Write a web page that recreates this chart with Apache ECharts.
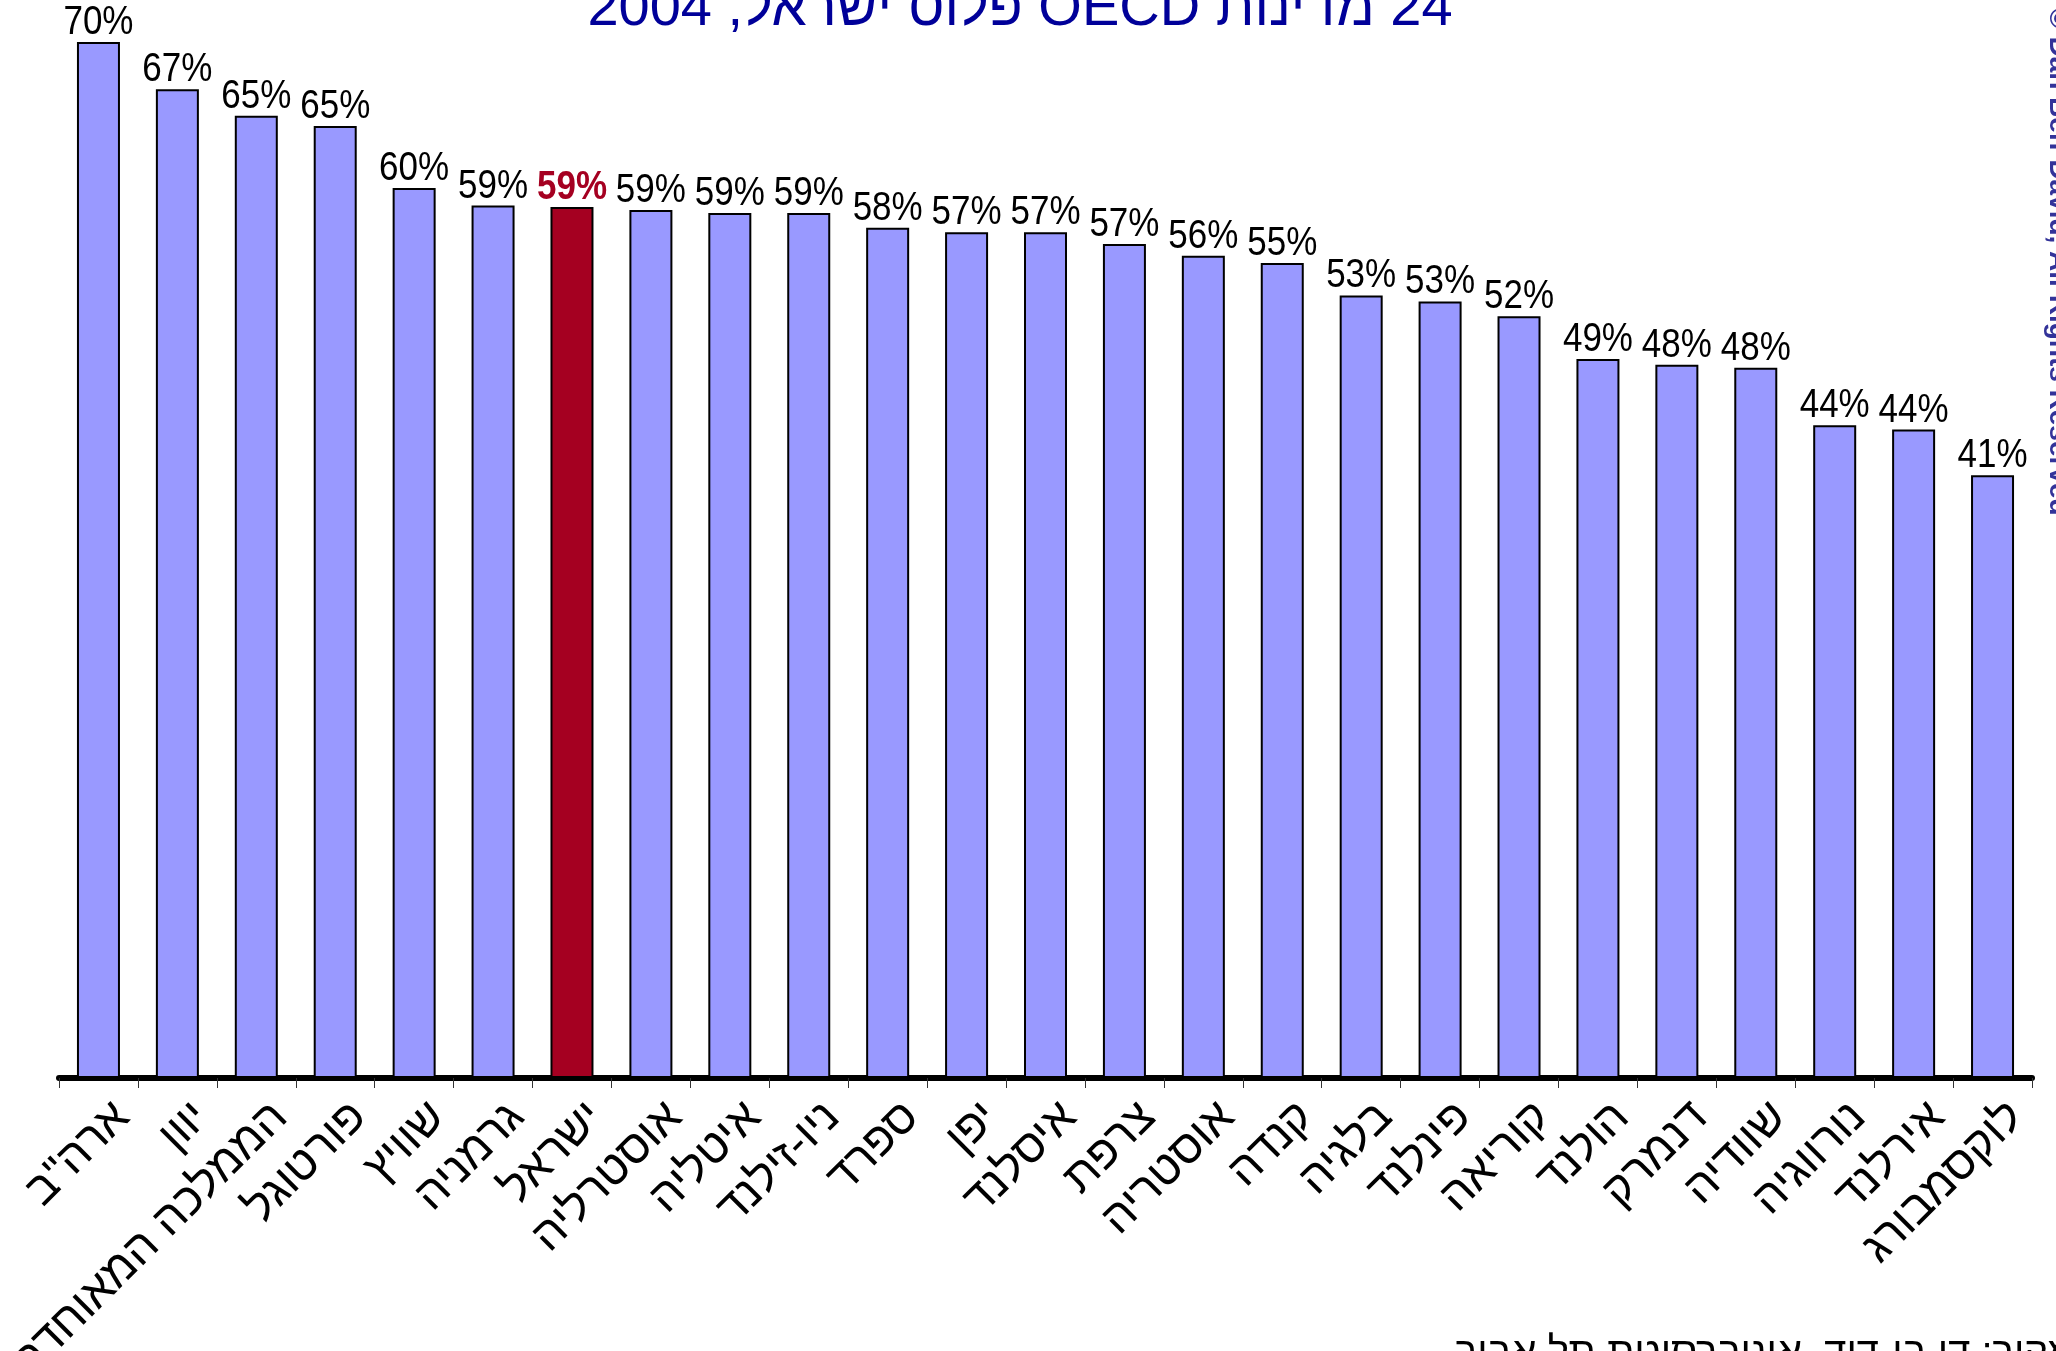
<!DOCTYPE html>
<html><head><meta charset="utf-8">
<script src="https://cdn.jsdelivr.net/npm/echarts@6/dist/echarts.min.js"></script>
<style>html,body{margin:0;padding:0;background:#fff}#c{width:2056px;height:1351px}</style>
</head><body><div id="c"></div>
<script>
const categories = ['ארה"ב','יוון','הממלכה המאוחדת','פורטוגל','שוויץ','גרמניה','ישראל','אוסטרליה','איטליה','ניו-זילנד','ספרד','יפן','איסלנד','צרפת','אוסטריה','קנדה','בלגיה','פינלנד','קוריאה','הולנד','דנמרק','שוודיה','נורווגיה','אירלנד','לוקסמבורג'];
const values = [70.3, 67.1, 65.3, 64.6, 60.4, 59.2, 59.1, 58.9, 58.7, 58.7, 57.7, 57.4, 57.4, 56.6, 55.8, 55.3, 53.1, 52.7, 51.7, 48.8, 48.4, 48.2, 44.3, 44.0, 40.9];
const highlight = 'ישראל';
const titleText = '24 מדינות OECD פלוס ישראל, 2004';
const sourceText = 'מקור: דן בן-דוד, אוניברסיטת תל אביב';
const copyrightText = '© Dan Ben-David, All Rights Reserved';

const FONT = '"Liberation Sans", Arial, sans-serif';
const chart = echarts.init(document.getElementById('c'), null, {renderer: 'canvas'});
const data = values.map((v, i) => {
  const isH = categories[i] === highlight;
  return {value: v, itemStyle: isH ? {color: '#A50021'} : undefined};
});
chart.setOption({
  animation: false,
  backgroundColor: '#ffffff',
  grid: {left: 59, right: 24, top: 17, bottom: 273, containLabel: false, outerBoundsMode: 'none'},
  xAxis: {
    type: 'category',
    data: categories,
    axisLine: {show: true, onZero: true, lineStyle: {color: '#000', width: 6}},
    axisTick: {show: true, length: 10, lineStyle: {color: '#333', width: 1}},
    axisLabel: {interval: 0, rotate: 45, margin: 8, verticalAlign: 'top', lineHeight: 68,
                fontSize: 46, color: '#000', fontFamily: FONT}
  },
  yAxis: {type: 'value', min: 0, max: 72, show: false},
  series: [{
    type: 'bar',
    data: data,
    barWidth: 43,
    itemStyle: {color: '#9999FF', borderColor: '#000', borderWidth: 2},
    label: {show: false}
  }, {
    type: 'custom',
    data: values.map((v, i) => [i, v]),
    z: 10,
    silent: true,
    renderItem: (params, api) => {
      const i = api.value(0), v = api.value(1);
      const pt = api.coord([i, v]);
      const isH = categories[i] === highlight;
      return {
        type: 'text', x: pt[0], y: pt[1] + 1, scaleY: 1.15,
        style: {
          text: Math.round(v) + '%', x: 0, y: 0,
          align: 'center', textAlign: 'center', verticalAlign: 'bottom', textVerticalAlign: 'bottom',
          fontSize: 35, fontFamily: FONT, fontWeight: isH ? 'bold' : 'normal',
          fill: isH ? '#A50021' : '#000'
        }
      };
    }
  }],
  graphic: [
    {type: 'text', x: 1020, y: 38, silent: true,
     style: {text: '\u202B' + titleText + '\u202C', fontSize: 56, fontFamily: FONT, fill: '#000099',
             textAlign: 'center', align: 'center', textVerticalAlign: 'bottom', verticalAlign: 'bottom'}},
    {type: 'text', x: 2044, y: 8, rotation: -Math.PI / 2, silent: true,
     style: {text: copyrightText, fontSize: 28, fontWeight: 'bold', fontFamily: FONT, fill: '#333399',
             textAlign: 'left', align: 'left', textVerticalAlign: 'bottom', verticalAlign: 'bottom'}},
    {type: 'text', x: 2075, y: 1374, silent: true,
     style: {text: sourceText, fontSize: 40, fontFamily: FONT, fill: '#000',
             textAlign: 'right', align: 'right', textVerticalAlign: 'bottom', verticalAlign: 'bottom'}}
  ]
});
</script>
</body></html>
